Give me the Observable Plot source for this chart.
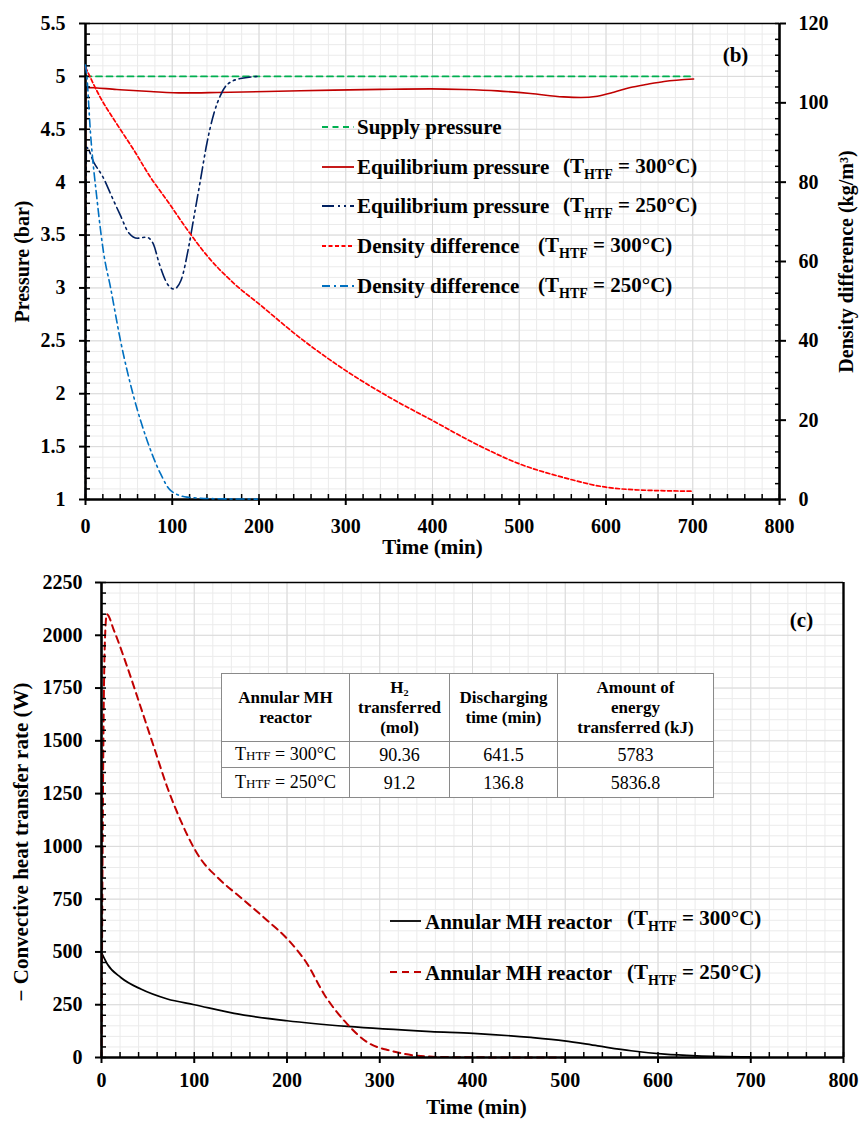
<!DOCTYPE html>
<html>
<head>
<meta charset="utf-8">
<script src="https://cdn.jsdelivr.net/npm/d3@7"></script>
<script src="https://cdn.jsdelivr.net/npm/@observablehq/plot@0.6"></script>
<style>
  body { margin: 0; background: #fff; }
  #wrap { position: relative; width: 860px; height: 1124px; background: #fff; overflow: hidden;
          font-family: "Liberation Serif", "DejaVu Serif", serif; color: #000; }
  #wrap svg { position: absolute; left: 0; }
  .leg { position: absolute; font-weight: bold; font-size: 21px; line-height: 24px; white-space: nowrap; }
  .sub { font-size: 14px; position: relative; top: 6px; }
  .sample { position: absolute; }
  table.res { position: absolute; left: 221px; top: 673px; border-collapse: collapse; background: #fff;
              font-family: "Liberation Serif", "DejaVu Serif", serif; text-align: center; color: #000; }
  table.res td, table.res th { border: 1px solid #8a8a8a; padding: 0; }
  table.res { border: 1.5px solid #333; }
  table.res th { font-weight: bold; font-size: 17px; line-height: 20px; height: 67px; }
  table.res td { font-size: 18px; line-height: 20px; }
  .sc { font-size: 13px; }
</style>
</head>
<body>
<div id="wrap"></div>
<script>
// ---------------- DATA ----------------
// Panel (b): pressure (bar) and density difference (kg/m3) vs time (min)
const supplyTime = [0, 700];
const supplyPressure = [5, 5];

const eq300Time = [0, 0.4, 36, 75, 113, 152, 209, 286, 340, 398, 436, 475, 513, 551, 571, 590, 609, 628, 648, 667, 701];
const eq300P    = [3.4, 4.895, 4.876, 4.857, 4.844, 4.848, 4.857, 4.870, 4.877, 4.882, 4.876, 4.863, 4.838, 4.806, 4.800, 4.813, 4.850, 4.895, 4.926, 4.952, 4.976];

const eq250Time = [0, 1, 10, 20, 30, 40, 50, 60, 70, 78, 85, 95, 102, 110, 119, 125, 132.5, 140, 148, 155.6, 163, 178.6, 200];
const eq250P    = [1.0, 4.33, 4.18, 4.05, 3.87, 3.69, 3.52, 3.47, 3.48, 3.42, 3.23, 3.03, 2.99, 3.07, 3.39, 3.67, 4.02, 4.37, 4.65, 4.82, 4.92, 4.98, 5.0];

const dens300Time = [0, 17, 36, 56, 75, 94, 119, 140, 171, 200, 250, 300, 350, 400, 450, 500, 550, 600, 650, 700];
const dens300     = [109, 101.4, 94.7, 88, 81.2, 75.4, 67.5, 61.5, 54.5, 49.3, 40.3, 32.5, 25.8, 19.9, 14.0, 9.0, 5.6, 3.1, 2.3, 2.1];

const dens250Time = [0, 1, 5.8, 13.4, 21, 28.8, 40.3, 55.7, 71, 86.5, 98, 117, 150, 198];
const dens250     = [109.5, 108, 92.2, 75.4, 62, 53.5, 40.1, 25.8, 14.9, 6.5, 2.3, 0.6, 0.2, 0.1];

// Panel (c): convective heat transfer rate (W) vs time (min)
const q300Time = [0, 6.4, 20.8, 42.4, 71, 100, 143, 200, 265, 355, 401, 463, 499, 535, 571, 607, 642, 700];
const q300     = [497, 442, 379, 324, 277, 250, 209, 174, 147, 123, 114, 95, 79, 55, 32, 16, 8, 3];

const q250Time = [0, 1.5, 3.5, 5.7, 13.6, 28, 42.4, 56.7, 71, 85.5, 100, 107, 125, 150, 179, 200.5, 222, 240, 265, 287, 312, 341, 370, 420, 500];
const q250     = [0, 1200, 1950, 2100, 2021, 1847, 1658, 1468, 1279, 1121, 990, 940, 853, 758, 648, 561, 442, 300, 158, 71, 32, 8, 2, 0.5, 0];

// Tick labels
const timeTicks = [0, 100, 200, 300, 400, 500, 600, 700, 800];
const pressureTicks = [1, 1.5, 2, 2.5, 3, 3.5, 4, 4.5, 5, 5.5];
const densityTicks = [0, 20, 40, 60, 80, 100, 120];
const heatTicks = [0, 250, 500, 750, 1000, 1250, 1500, 1750, 2000, 2250];

// Legend / table text
const legendB = [
  {main: "Supply pressure", temp: null},
  {main: "Equilibrium pressure", temp: "300°C"},
  {main: "Equilibrium pressure", temp: "250°C"},
  {main: "Density difference", temp: "300°C"},
  {main: "Density difference", temp: "250°C"}
];
const legendC = [
  {main: "Annular MH reactor", temp: "300°C"},
  {main: "Annular MH reactor", temp: "250°C"}
];
const tableHeader = ["Annular MH<br>reactor", "H₂<br>transferred<br>(mol)", "Discharging<br>time (min)", "Amount of<br>energy<br>transferred (kJ)"];
const tableRows = [
  ["300°C", "90.36", "641.5", "5783"],
  ["250°C", "91.2", "136.8", "5836.8"]
];

// ---------------- STYLES ----------------
const FONT = '"Liberation Serif", "DejaVu Serif", serif';
const C = {supply: "#00b050", eq300: "#c00000", eq250: "#002060", d300: "#ff0000", d250: "#0070c0", q300: "#000000", q250: "#c00000"};
const DASH = {supply: "6,4.5", eq300: null, eq250: "12,4,2,4,2,4", d300: "4,2.5", d250: "8,4,2,4", q300: null, q250: "7,5"};
const gridMinor = "#ebebeb", gridMajor = "#dadada";

const zip = (ts, vs) => ts.map((t, i) => ({t, v: vs[i]}));
const seq = (a, b, s) => d3.range(Math.round(a / s), Math.round(b / s) + 1).map(i => +(i * s).toFixed(6));
function series(ts, vs, key, w = 1.6) {
  return Plot.line(zip(ts, vs), {x: "t", y: "v", curve: "monotone-x", stroke: C[key], strokeWidth: w, strokeDasharray: DASH[key]});
}
const baseStyle = {fontFamily: FONT, fontWeight: "bold", fontSize: "20px", background: "transparent", color: "black", overflow: "visible"};
const wrap = document.getElementById("wrap");

// ---------------- PANEL (b) ----------------
const dimB = {width: 860, height: 565, marginTop: 23, marginRight: 81, marginBottom: 66, marginLeft: 85};
const plotB = Plot.plot({
  ...dimB, style: baseStyle,
  x: {domain: [0, 800]}, y: {domain: [1, 5.5]},
  marks: [
    Plot.gridX(seq(0, 800, 20), {stroke: gridMinor, strokeOpacity: 1}),
    Plot.gridY(seq(1, 5.5, 0.1), {stroke: gridMinor, strokeOpacity: 1}),
    Plot.gridX(timeTicks, {stroke: gridMajor, strokeOpacity: 1}),
    Plot.gridY(pressureTicks, {stroke: gridMajor, strokeOpacity: 1}),
    Plot.ruleY([5.5], {stroke: "black", strokeWidth: 1.3}),
    series(supplyTime, supplyPressure, "supply", 1.8),
    series(eq300Time, eq300P, "eq300", 1.6),
    series(eq250Time, eq250P, "eq250", 1.6),
    Plot.axisX(timeTicks, {tickSize: 6, tickPadding: 13, tickFormat: d => String(d), label: null, fontSize: 20, fontWeight: "bold", strokeWidth: 2}),
    Plot.axisX(seq(0, 800, 20), {tickSize: 5, insetBottom: 5, tickFormat: () => "", label: null, strokeWidth: 1.5}),
    Plot.axisY(pressureTicks, {tickSize: 6, tickPadding: 14, tickFormat: d => String(d), label: null, fontSize: 20, fontWeight: "bold", strokeWidth: 2}),
    Plot.axisY(seq(1, 5.5, 0.1), {tickSize: 5, insetLeft: 5, tickFormat: () => "", label: null, strokeWidth: 1.5}),
    Plot.ruleX([0], {stroke: "black", strokeWidth: 2.6}),
    Plot.ruleY([1], {stroke: "black", strokeWidth: 2.6}),
    Plot.text(["Pressure (bar)"], {text: d => d, frameAnchor: "left", textAnchor: "middle", dx: -63, rotate: -90, fontSize: 20, fontWeight: "bold"}),
    Plot.text(["Time (min)"], {text: d => d, frameAnchor: "bottom", textAnchor: "middle", dy: 54, fontSize: 21, fontWeight: "bold"}),
    Plot.text(["(b)"], {text: d => d, frameAnchor: "top-right", textAnchor: "middle", dx: -44, dy: 24, fontSize: 21, fontWeight: "bold"})
  ]
});
plotB.style.top = "0px";
wrap.appendChild(plotB);

const plotB2 = Plot.plot({
  ...dimB, style: baseStyle,
  x: {domain: [0, 800], axis: null}, y: {domain: [0, 120]},
  marks: [
    series(dens300Time, dens300, "d300", 1.7),
    series(dens250Time, dens250, "d250", 1.6),
    Plot.axisY(densityTicks, {anchor: "right", tickSize: 6, tickPadding: 13, tickFormat: d => String(d), label: null, fontSize: 20, fontWeight: "bold", strokeWidth: 2}),
    Plot.axisY(seq(0, 120, 4), {anchor: "right", tickSize: 5, insetRight: 5, tickFormat: () => "", label: null, strokeWidth: 1.5}),
    Plot.ruleX([800], {stroke: "black", strokeWidth: 2.6}),
    Plot.text(["Density difference (kg/m³)"], {text: d => d, frameAnchor: "right", textAnchor: "middle", dx: 67, rotate: -90, fontSize: 20, fontWeight: "bold"})
  ]
});
plotB2.style.top = "0px";
wrap.appendChild(plotB2);

// ---------------- PANEL (c) ----------------
const plotC = Plot.plot({
  width: 860, height: 559, marginTop: 17, marginRight: 17, marginBottom: 67, marginLeft: 101,
  style: baseStyle,
  x: {domain: [0, 800]}, y: {domain: [0, 2250]},
  marks: [
    Plot.gridX(seq(0, 800, 20), {stroke: gridMinor, strokeOpacity: 1}),
    Plot.gridY(seq(0, 2250, 50), {stroke: gridMinor, strokeOpacity: 1}),
    Plot.gridX(timeTicks, {stroke: gridMajor, strokeOpacity: 1}),
    Plot.gridY(heatTicks, {stroke: gridMajor, strokeOpacity: 1}),
    Plot.ruleY([2250], {stroke: "black", strokeWidth: 1.3}),
    Plot.ruleX([800], {stroke: "black", strokeWidth: 2.4}),
    series(q300Time, q300, "q300", 1.7),
    series(q250Time, q250, "q250", 2),
    Plot.axisX(timeTicks, {tickSize: 6, tickPadding: 9, tickFormat: d => String(d), label: null, fontSize: 20, fontWeight: "bold", strokeWidth: 2}),
    Plot.axisX(seq(0, 800, 20), {tickSize: 5, insetBottom: 5, tickFormat: () => "", label: null, strokeWidth: 1.5}),
    Plot.axisY(heatTicks, {tickSize: 6, tickPadding: 13, tickFormat: d => String(d), label: null, fontSize: 20, fontWeight: "bold", strokeWidth: 2}),
    Plot.axisY(seq(0, 2250, 50), {tickSize: 5, insetLeft: 5, tickFormat: () => "", label: null, strokeWidth: 1.5}),
    Plot.ruleX([0], {stroke: "black", strokeWidth: 2.6}),
    Plot.ruleY([0], {stroke: "black", strokeWidth: 2.6}),
    Plot.text(["− Convective heat transfer rate (W)"], {text: d => d, frameAnchor: "left", textAnchor: "middle", dx: -80, dy: 22, rotate: -90, fontSize: 21, fontWeight: "bold"}),
    Plot.text(["Time (min)"], {text: d => d, frameAnchor: "bottom", textAnchor: "middle", dy: 56, dx: 4, fontSize: 21, fontWeight: "bold"}),
    Plot.text(["(c)"], {text: d => d, frameAnchor: "top-right", textAnchor: "middle", dx: -42, dy: 30, fontSize: 21, fontWeight: "bold"})
  ]
});
plotC.style.top = "565px";
wrap.appendChild(plotC);

// ---------------- LEGENDS ----------------
function sample(x, y, w, key, sw) {
  const ns = "http://www.w3.org/2000/svg";
  const s = document.createElementNS(ns, "svg");
  s.setAttribute("width", w + 4); s.setAttribute("height", 10);
  s.setAttribute("class", "sample");
  s.style.left = (x - 2) + "px"; s.style.top = (y - 5) + "px";
  const l = document.createElementNS(ns, "line");
  l.setAttribute("x1", 2); l.setAttribute("x2", w + 2); l.setAttribute("y1", 5); l.setAttribute("y2", 5);
  l.setAttribute("stroke", C[key]); l.setAttribute("stroke-width", sw);
  if (DASH[key]) l.setAttribute("stroke-dasharray", DASH[key]);
  s.appendChild(l);
  wrap.appendChild(s);
}
function label(x, y, html) {
  const d = document.createElement("div");
  d.className = "leg"; d.style.left = x + "px"; d.style.top = (y - 12) + "px";
  d.innerHTML = html;
  wrap.appendChild(d);
}
const tempHtml = t => `(T<span class="sub">HTF</span> = ${t})`;
const keysB = ["supply", "eq300", "eq250", "d300", "d250"];
const yB = [127, 166.5, 206, 246, 286];
const parenX = [null, 563, 563, 538, 538];
legendB.forEach((e, i) => {
  sample(322, yB[i], 32, keysB[i], 1.8);
  label(357, yB[i], e.main);
  if (e.temp) label(parenX[i], yB[i] - 1, tempHtml(e.temp));
});
const keysC = ["q300", "q250"];
const yC = [920.5, 972];
legendC.forEach((e, i) => {
  sample(390, yC[i], 31, keysC[i], 1.8);
  label(425, yC[i] + 1, e.main);
  label(627, yC[i] - (i === 0 ? 3 : 0), tempHtml(e.temp));
});

// ---------------- TABLE ----------------
const colW = [127, 99, 107, 155];
const rowH = [26, 30];
let html = `<table class="res"><tr>` + tableHeader.map((h, i) => `<th style="width:${colW[i]}px">${h}</th>`).join("") + `</tr>`;
tableRows.forEach((r, ri) => {
  html += `<tr style="height:${rowH[ri]}px">` + r.map((c, ci) => `<td>${ci === 0 ? `T<span class="sc">HTF</span> = ${c}` : c}</td>`).join("") + `</tr>`;
});
html += `</table>`;
wrap.insertAdjacentHTML("beforeend", html);
</script>
</body>
</html>
